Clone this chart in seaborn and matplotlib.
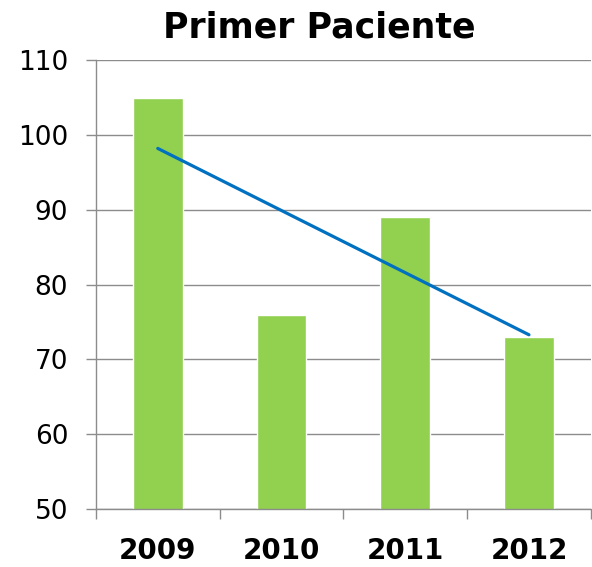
import matplotlib
matplotlib.use("Agg")
import matplotlib.pyplot as plt
import seaborn as sns
import pandas as pd

# values
years = ["2009", "2010", "2011", "2012"]
patients = [105, 76, 89, 73]
y_ticks = [50, 60, 70, 80, 90, 100, 110]

bar_color = "#92D050"
line_color = "#0070C0"
grid_color = "#8c8c8c"

df = pd.DataFrame({"year": years, "value": patients, "pos": range(len(years))})

sns.set_style("white")
plt.rcParams["font.family"] = ["DejaVu Sans"]
plt.rcParams["text.color"] = "black"
plt.rcParams["xtick.labelcolor"] = "black"
plt.rcParams["ytick.labelcolor"] = "black"

fig = plt.figure(figsize=(5.92, 5.67), dpi=100)
ax = fig.add_axes([0.162, 0.102, 0.836, 0.792])

sns.barplot(data=df, x="year", y="value", color=bar_color, saturation=1,
            width=0.4, ax=ax, zorder=2)

# linear trendline, fitted by seaborn
sns.regplot(data=df, x="pos", y="value", ci=None, scatter=False, truncate=True,
            line_kws={"color": line_color, "linewidth": 2.3, "zorder": 3}, ax=ax)

ax.set_ylim(y_ticks[0], y_ticks[-1])
ax.set_xlim(-0.5, len(years) - 0.5)
ax.set_yticks(y_ticks)
ax.yaxis.grid(True, color=grid_color, linewidth=1.0, zorder=0)
ax.set_axisbelow(True)

# category boundary ticks (major) and labels at the centres (minor)
ax.set_xticks([i - 0.5 for i in range(len(years) + 1)])
ax.set_xticklabels([])
ax.set_xticks(range(len(years)), minor=True)
ax.set_xticklabels(years, minor=True, fontsize=20, fontweight="bold", color="black")
ax.tick_params(axis="x", which="major", bottom=True, length=7, width=1.0,
               color=grid_color, direction="out")
ax.tick_params(axis="x", which="minor", length=0, pad=20)
ax.tick_params(axis="y", left=True, length=7, width=1.0, color=grid_color, direction="out",
               labelsize=19, pad=13, labelcolor="black")

ax.set_xlabel("")
ax.set_ylabel("")
for side in ["top", "right"]:
    ax.spines[side].set_visible(False)
for side in ["left", "bottom"]:
    ax.spines[side].set_color(grid_color)
    ax.spines[side].set_linewidth(1.0)

fig.text(0.54, 0.952, "Primer Paciente", ha="center", va="center",
         fontsize=25, fontweight="bold", color="black")

fig.savefig("out.png", dpi=100)
